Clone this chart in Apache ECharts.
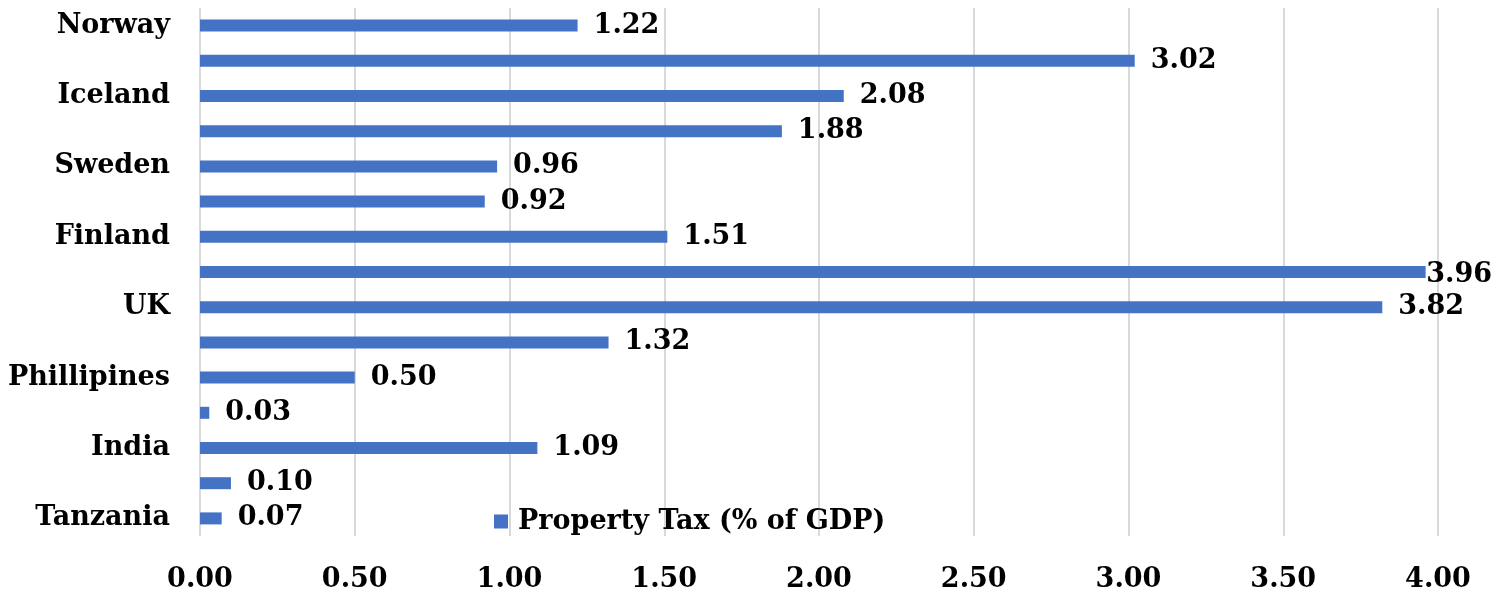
<!DOCTYPE html>
<html>
<head>
<meta charset="utf-8">
<script src="https://cdn.jsdelivr.net/npm/echarts@6/dist/echarts.min.js"></script>
<style>html,body{margin:0;padding:0;background:#fff;}#c{width:1496px;height:593px;}</style>
</head>
<body>
<div id="c"></div>
<script>
// categories listed bottom to top
const categories = ["Tanzania","Kenya","India","Indonesia","Phillipines","Japan","UK","Canada","Finland","Germany","Sweden","Denmark","Iceland","France","Norway"];
const propertyTax = [0.07,0.10,1.09,0.03,0.50,1.32,3.82,3.96,1.51,0.92,0.96,1.88,2.08,3.02,1.22];
const seriesName = "Property Tax (% of GDP)";
const xTicks = {min:0, max:4, interval:0.5};

const FONT = "DejaVu Serif";
const FS = 27;
const W = 1496;
const chart = echarts.init(document.getElementById('c'), null, {renderer:'canvas'});
chart.setOption({
  animation:false,
  backgroundColor:'#fff',
  grid:{left:200,right:58,top:8,bottom:56,containLabel:false},
  legend:{
    data:[seriesName], left:494, top:508, padding:0, icon:'rect', itemWidth:14, itemHeight:14, itemGap:10,
    textStyle:{fontFamily:FONT,fontWeight:'bold',fontSize:FS,color:'#000',padding:[0,0,0,5]}
  },
  xAxis:{
    type:'value', min:xTicks.min, max:xTicks.max, interval:xTicks.interval,
    axisLine:{show:false}, axisTick:{show:false},
    splitLine:{show:true,lineStyle:{color:'#d9d9d9',width:2}},
    axisLabel:{margin:30,fontFamily:FONT,fontWeight:'bold',fontSize:FS,color:'#000',formatter:v=>v.toFixed(2)}
  },
  yAxis:{
    type:'category', data:categories,
    axisLine:{show:false}, axisTick:{show:false},
    axisLabel:{interval:1,margin:30,padding:[6,0,0,0],fontFamily:FONT,fontWeight:'bold',fontSize:FS,color:'#000'}
  },
  series:[{
    name:seriesName, type:'bar', data:propertyTax, barWidth:12,
    itemStyle:{color:'#4472C4'},
    label:{show:true,position:'right',distance:16,offset:[0,3],fontFamily:FONT,fontWeight:'bold',fontSize:FS,color:'#000',formatter:p=>p.value.toFixed(2)},
    labelLayout:function(p){
      const r = p.labelRect;
      if (r.x + r.width > W - 2) {
        return {x: W - 4 - r.width, y: r.y + r.height/2, align:'left', verticalAlign:'middle'};
      }
      return {};
    }
  }]
});
</script>
</body>
</html>
